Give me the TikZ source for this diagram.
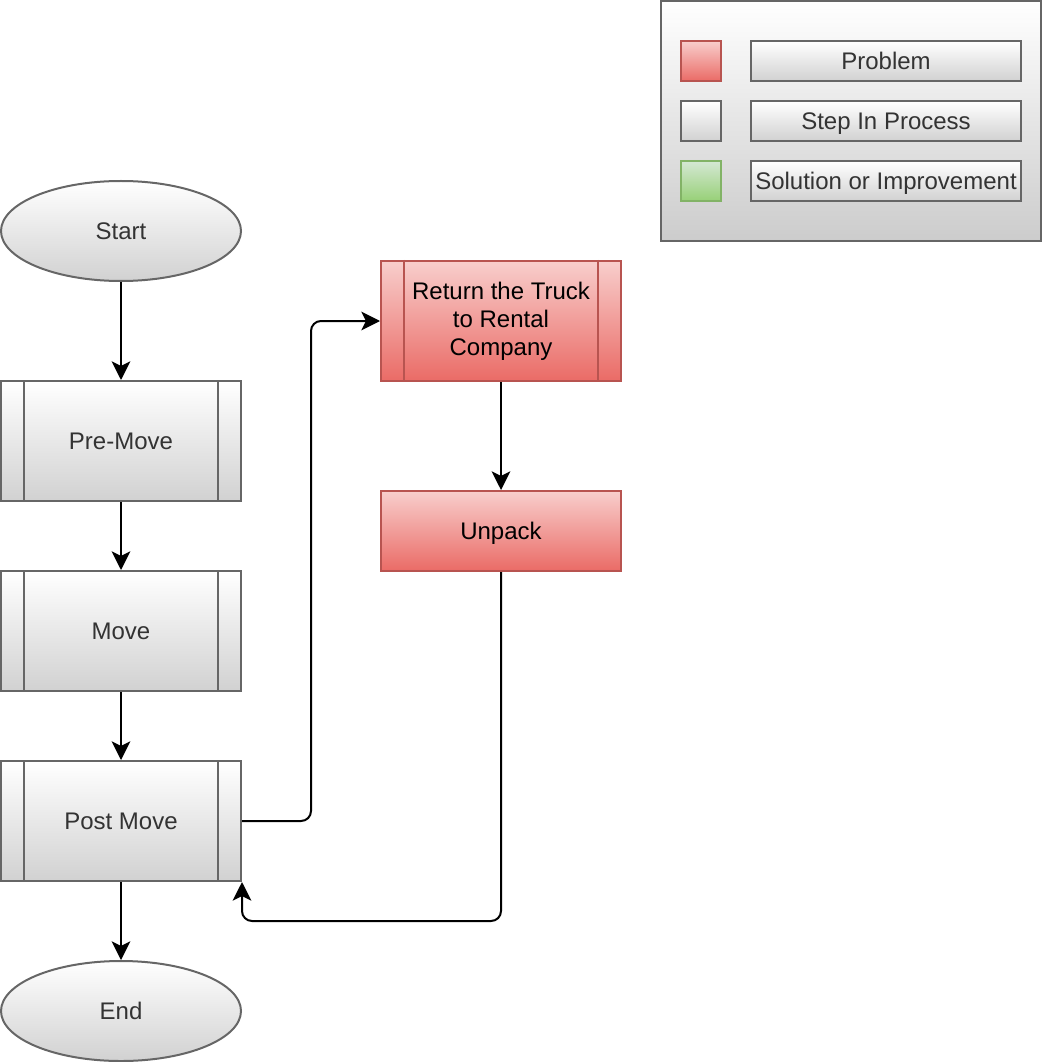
\documentclass[tikz,border=0pt]{standalone}
\usepackage{fontspec}
\setmainfont{Liberation Sans}
\usetikzlibrary{shapes.geometric,arrows.meta}

\definecolor{edgegray}{HTML}{666666}
\definecolor{textgray}{HTML}{333333}
\definecolor{redtop}{HTML}{F8CECC}
\definecolor{redbot}{HTML}{EA6B66}
\definecolor{rededge}{HTML}{B85450}
\definecolor{greentop}{HTML}{D5E8D4}
\definecolor{greenbot}{HTML}{97D077}
\definecolor{greenedge}{HTML}{82B366}

\tikzset{
  oneline/.style={text height=12.9pt, text depth=0pt},
  graybox/.style={rectangle, draw=edgegray, line width=1.5pt,
      top color=white, bottom color=black!18, text=textgray},
  redbox/.style={rectangle, draw=rededge, line width=1.5pt,
      top color=redtop, bottom color=redbot, text=black},
  greenbox/.style={rectangle, draw=greenedge, line width=1.5pt,
      top color=greentop, bottom color=greenbot},
  procbox/.style={graybox, oneline, minimum width=180pt, minimum height=90pt},
  termbox/.style={ellipse, draw=edgegray, line width=1.5pt, oneline,
      top color=white, bottom color=black!18, text=textgray,
      minimum width=180pt, minimum height=75pt, inner sep=0pt},
  keybox/.style={graybox, oneline, minimum width=202.5pt, minimum height=30pt, inner sep=1pt},
  swatch/.style={minimum width=30pt, minimum height=30pt, inner sep=0pt},
  flow/.style={line width=1.5pt, rounded corners=7.5pt,
      -{Stealth[length=14pt, width=14pt, inset=3.5pt]}},
  bar/.style={draw=edgegray, line width=1.5pt}
}

\begin{document}
\begin{tikzpicture}[x=0.75pt, y=-0.75pt, font=\fontsize{18}{21}\selectfont]
\useasboundingbox (0,0) rectangle (1042,1062);

% legend
\node[graybox, bottom color=black!20, minimum width=285pt, minimum height=180pt] (legend) at (851,121) {};
\node[redbox, swatch] (keyred) at (701,61) {};
\node[graybox, swatch] (keygray) at (701,121) {};
\node[greenbox, swatch] (keygreen) at (701,181) {};
\node[keybox] (keyproblem) at (886,61) {Problem};
\node[keybox] (keystep) at (886,121) {Step In Process};
\node[keybox] (keysolution) at (886,181) {Solution or Improvement};

% main flow
\node[termbox] (start) at (121,231) {Start};
\node[procbox] (premove) at (121,441) {Pre-Move};
\node[procbox] (move) at (121,631) {Move};
\node[procbox] (postmove) at (121,821) {Post Move};
\node[termbox] (end) at (121,1011) {End};

\node[redbox, minimum width=180pt, minimum height=90pt, align=center] (truck)
      at (501,321) {Return the Truck\\to Rental\\Company};
\node[redbox, oneline, minimum width=180pt, minimum height=60pt] (unpack) at (501,531) {Unpack};

% side bars of the process boxes
\foreach \n in {premove,move,postmove}{
  \draw[bar] ([xshift=18pt]\n.north west) -- ([xshift=18pt]\n.south west);
  \draw[bar] ([xshift=-18pt]\n.north east) -- ([xshift=-18pt]\n.south east);
}
\draw[bar, draw=rededge] ([xshift=18pt]truck.north west) -- ([xshift=18pt]truck.south west);
\draw[bar, draw=rededge] ([xshift=-18pt]truck.north east) -- ([xshift=-18pt]truck.south east);

% connectors
\coordinate (upturn) at (311,821);
\coordinate (downturn) at (501,921);
\draw[flow] (start) -- (premove);
\draw[flow] (premove) -- (move);
\draw[flow] (move) -- (postmove);
\draw[flow] (postmove) -- (end);
\draw[flow] (postmove.east) -- (upturn) |- (truck.west);
\draw[flow] (truck) -- (unpack);
\draw[flow] (unpack.south) -- (downturn) -| (postmove.south east);
\end{tikzpicture}
\end{document}
